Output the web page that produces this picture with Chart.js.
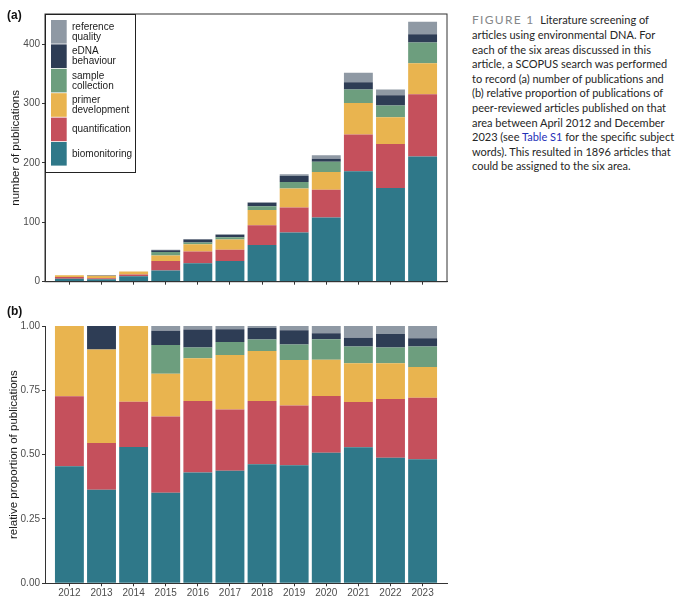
<!DOCTYPE html>
<html>
<head>
<meta charset="utf-8">
<script src="https://cdn.jsdelivr.net/npm/chart.js@4.4.1/dist/chart.umd.min.js"></script>
<style>
  body { margin: 0; background: #fff; width: 680px; height: 600px; position: relative; overflow: hidden; font-family: 'Liberation Sans', Arial, sans-serif; }
  canvas { position: absolute; left: 0; }
  #chartA { top: 0; }
  #chartB { top: 295px; }
  .tag { position: absolute; left: 7px; font-weight: bold; font-size: 12px; color: #111; }
  #caption { position: absolute; left: 472px; top: 13.4px; font-family: Lato, 'Open Sans', sans-serif; font-size: 11px; line-height: 14.6px; color: #262626; white-space: nowrap; }
  #caption .fig { color: #858789; letter-spacing: 1.3px; font-size: 12px; }
  #caption .link { color: #1f2fb8; }
</style>
</head>
<body>
<canvas id="chartA" width="455" height="295"></canvas>
<canvas id="chartB" width="455" height="305"></canvas>
<div class="tag" style="top:8px">(a)</div>
<div class="tag" style="top:304px">(b)</div>
<div id="caption"><span class="fig">FIGURE 1</span>&nbsp; Literature screening of<br>articles using environmental DNA. For<br>each of the six areas discussed in this<br>article, a SCOPUS search was performed<br>to record (a) number of publications and<br>(b) relative proportion of publications of<br>peer-reviewed articles published on that<br>area between April 2012 and December<br>2023 (see <span class="link">Table S1</span> for the specific subject<br>words). This resulted in 1896 articles that<br>could be assigned to the six area.</div>
<script>
'use strict';

const years = [2012, 2013, 2014, 2015, 2016, 2017, 2018, 2019, 2020, 2021, 2022, 2023];

// stacking order, bottom to top
const areaNames = ['biomonitoring', 'quantification', 'primer development', 'sample collection', 'eDNA behaviour', 'reference quality'];
const legendLines = [['biomonitoring'], ['quantification'], ['primer', 'development'], ['sample', 'collection'], ['eDNA', 'behaviour'], ['reference', 'quality']];
const areaColors = ['#2f7889', '#c5505c', '#e9b44f', '#6d9e7e', '#2e3d55', '#8f99a4'];

// publications per year
const biomonitoring = [5, 4, 9, 19, 31, 35, 62, 83, 108, 186, 158, 211];
const quantification = [3, 2, 3, 16, 20, 19, 33, 42, 47, 62, 74, 105];
const primerDevelopment = [3, 4, 5, 9, 12, 17, 26, 32, 30, 53, 45, 52];
const sampleCollection = [0, 0, 0, 6, 3, 4, 6, 11, 17, 23, 20, 35];
const ednaBehaviour = [0, 1, 0, 3, 5, 4, 6, 10, 5, 12, 17, 14];
const referenceQuality = [0, 0, 0, 1, 1, 1, 1, 3, 6, 16, 10, 21];

const countTicks = [0, 100, 200, 300, 400];
const shareTicks = [0, 0.25, 0.5, 0.75, 1];

const series = [biomonitoring, quantification, primerDevelopment, sampleCollection, ednaBehaviour, referenceQuality];
const totals = years.map((y, i) => series.reduce((s, arr) => s + arr[i], 0));

Chart.defaults.font.family = "'Liberation Sans', Arial, sans-serif";

function makeDatasets(relative) {
  return series.map((arr, k) => ({
    label: areaNames[k],
    data: years.map((y, i) => ({ x: y, y: relative ? arr[i] / totals[i] : arr[i] })),
    backgroundColor: areaColors[k],
    borderWidth: 0,
    categoryPercentage: 1,
    barPercentage: 0.9
  }));
}

function xAxis(showLabels, height) {
  return {
    type: 'linear',
    offset: false,
    min: years[0] - 0.76,
    max: years[years.length - 1] + 0.76,
    stacked: true,
    afterBuildTicks: s => { s.ticks = years.map(v => ({ value: v })); },
    afterFit: s => { s.height = height; },
    ticks: { color: '#4d4d4d', font: { size: 10 }, padding: 1, maxRotation: 0, autoSkip: false,
      callback: v => showLabels ? String(v) : '' },
    grid: { offset: false, drawOnChartArea: false, drawTicks: true, tickLength: 3, color: '#333' },
    border: { display: true, color: '#333', width: 1 }
  };
}

function yAxis(max, ticks, fmt, titleText, titlePad) {
  return {
    min: 0,
    max: max,
    stacked: true,
    afterBuildTicks: s => { s.ticks = ticks.map(v => ({ value: v })); },
    afterFit: s => { s.width = 45; },
    ticks: { color: '#4d4d4d', font: { size: 10 }, padding: 2, callback: fmt },
    grid: { drawOnChartArea: false, drawTicks: true, tickLength: 3, color: '#333' },
    border: { display: true, color: '#333', width: 1 },
    title: { display: true, text: titleText, color: '#1a1a1a', font: { size: 11.5 }, padding: { top: titlePad, bottom: 0 } }
  };
}

// box round panel (a) plus the legend in its top-left corner
const panelBox = {
  id: 'panelBox',
  afterDraw(chart) {
    const { ctx, chartArea } = chart;
    const x0 = chartArea.left, y0 = chartArea.top;
    ctx.save();
    ctx.strokeStyle = '#333';
    ctx.lineWidth = 1;
    ctx.strokeRect(chartArea.left, chartArea.top, chartArea.right - chartArea.left, chartArea.bottom - chartArea.top);

    ctx.fillStyle = '#fff';
    ctx.fillRect(x0, y0, 90, 158);
    ctx.strokeStyle = '#222';
    ctx.strokeRect(x0 + 0.5, y0 + 0.5, 90, 158);
    ctx.font = "10px 'Liberation Sans', Arial, sans-serif";
    ctx.textBaseline = 'middle';
    for (let k = 0; k < areaNames.length; k++) {
      const i = areaNames.length - 1 - k;
      const top = y0 + 6 + k * 24.4;
      ctx.fillStyle = areaColors[i];
      ctx.fillRect(x0 + 6, top, 15.7, 23.6);
      const lines = legendLines[i];
      const mid = top + 12;
      ctx.fillStyle = '#1a1a1a';
      lines.forEach((t, j) => ctx.fillText(t, x0 + 27, mid + (j - (lines.length - 1) / 2) * 10));
    }
    ctx.restore();
  }
};

const common = {
  responsive: false,
  animation: false,
  events: [],
  plugins: { legend: { display: false }, tooltip: { enabled: false } }
};

new Chart(document.getElementById('chartA'), {
  type: 'bar',
  data: { datasets: makeDatasets(false) },
  options: Object.assign({}, common, {
    layout: { padding: { top: 14, right: 8, left: 0, bottom: 0 } },
    scales: {
      x: xAxis(false, 13.3),
      y: yAxis(451, countTicks, v => String(v), 'number of publications', 9)
    }
  }),
  plugins: [panelBox]
});

new Chart(document.getElementById('chartB'), {
  type: 'bar',
  data: { datasets: makeDatasets(true) },
  options: Object.assign({}, common, {
    layout: { padding: { top: 31, right: 8, left: 0, bottom: 0 } },
    scales: {
      x: xAxis(true, 16.7),
      y: yAxis(1, shareTicks, v => v.toFixed(2), 'relative proportion of publications', 7)
    }
  })
});
</script>
</body>
</html>
